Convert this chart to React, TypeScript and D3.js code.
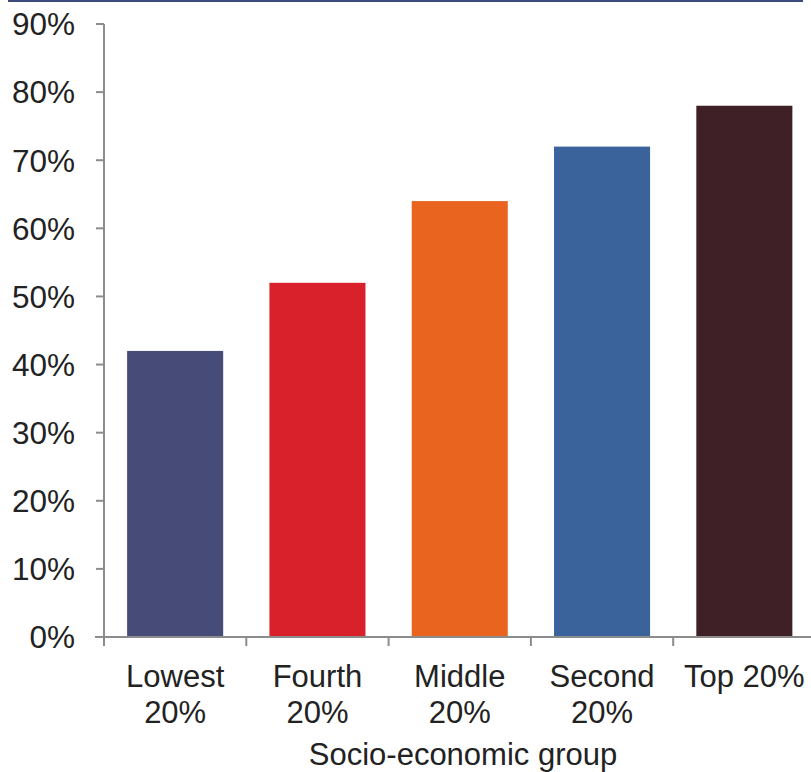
import React from "react";
import * as d3 from "d3";

const categories = [["Lowest", "20%"], ["Fourth", "20%"], ["Middle", "20%"], ["Second", "20%"], ["Top 20%"]];
const values = [42, 52, 64, 72, 78];
const colors = ["#474b77", "#d9212c", "#e8641f", "#3a639b", "#3f2027"];
const yTicks = [0, 10, 20, 30, 40, 50, 60, 70, 80, 90];
const xTitle = "Socio-economic group";

export default function App() {
  const W = 811, H = 772;
  const left = 104, right = 815.5, top = 24, bottom = 637;
  const x = d3.scaleBand<number>().domain(d3.range(values.length)).range([left, right]).paddingInner(0.325).paddingOuter(0.1625);
  const y = d3.scaleLinear().domain([0, 90]).range([bottom, top]);
  const step = x.step();
  const font = "'Liberation Sans', Arial, sans-serif";
  return (
    <svg width={W} height={H} style={{ position: "absolute", left: 0, top: 0 }}>
      <line x1={8} x2={803} y1={1} y2={1} stroke="#3c4a7c" strokeWidth={2} />
      {values.map((v, i) => (
        <rect key={i} x={x(i)} y={y(v)} width={x.bandwidth()} height={y(0) - y(v)} fill={colors[i]} />
      ))}
      <line x1={left} x2={left} y1={top} y2={bottom} stroke="#8c8c8c" strokeWidth={2} />
      <line x1={95} x2={W} y1={bottom} y2={bottom} stroke="#8c8c8c" strokeWidth={2} />
      {yTicks.map((t) => (
        <g key={t}>
          <line x1={96} x2={left} y1={y(t)} y2={y(t)} stroke="#8c8c8c" strokeWidth={2} />
          <text x={75} y={y(t)} dy="0.36em" textAnchor="end" fontFamily={font} fontSize={31.5} fill="#222">{t}%</text>
        </g>
      ))}
      {d3.range(values.length).map((i) => (
        <line key={i} x1={left + i * step} x2={left + i * step} y1={bottom} y2={bottom + 9} stroke="#8c8c8c" strokeWidth={2} />
      ))}
      {categories.map((lines, i) => (
        <text key={i} textAnchor="middle" fontFamily={font} fontSize={31} fill="#222">
          {lines.map((l, j) => (
            <tspan key={j} x={x(i)! + x.bandwidth() / 2} y={687 + j * 36}>{l}</tspan>
          ))}
        </text>
      ))}
      <text x={463} y={765} textAnchor="middle" fontFamily={font} fontSize={31} fill="#222">{xTitle}</text>
    </svg>
  );
}
